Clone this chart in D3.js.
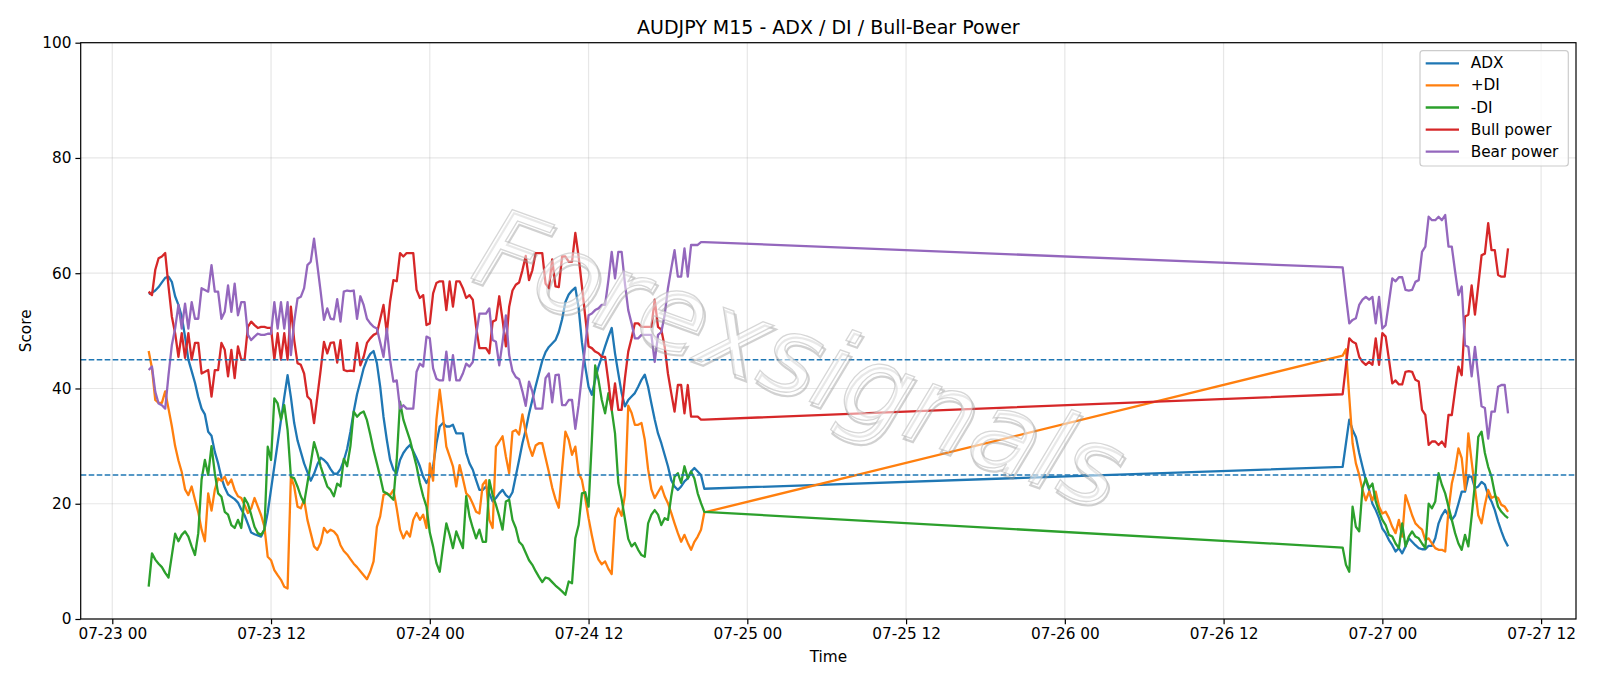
<!DOCTYPE html>
<html>
<head>
<meta charset="utf-8">
<script src="https://cdn.jsdelivr.net/npm/d3@7"></script>
<style>
  html, body { margin: 0; padding: 0; background: #fff; }
  svg { display: block; }
  text { font-family: "DejaVu Sans", sans-serif; }
</style>
</head>
<body>
<svg id="chart" width="1600" height="686"></svg>
<script>
// ---------------- data ----------------
const title = "AUDJPY M15 - ADX / DI / Bull-Bear Power";
const seriesNames = ["ADX", "+DI", "-DI", "Bull power", "Bear power"];
const seriesColors = ["#1f77b4", "#ff7f0e", "#2ca02c", "#d62728", "#9467bd"];
const yTicks = [0, 20, 40, 60, 80, 100];
const levelLines = [45, 25];
const xTickLabels = ["07-23 00","07-23 12","07-24 00","07-24 12","07-25 00","07-25 12","07-26 00","07-26 12","07-27 00","07-27 12"];
// two trading sessions of 15-minute bars (weekend gap in between)
const sessions = [
  { start: "2020-07-23T02:45:00Z", bars: 169 },
  { start: "2020-07-26T21:00:00Z", bars: 51 }
];
const barMinutes = 15;

const adx = [
56.4,56.6,57.0,57.6,58.4,59.2,59.4,58.5,56.0,54.5,
52.5,49.0,45.0,43.0,41.0,38.5,36.5,35.5,32.5,31.8,
29.0,27.0,24.5,22.8,21.6,21.2,20.8,20.2,19.0,18.0,
16.5,15.0,14.7,14.5,14.3,15.5,18.5,22.5,26.5,30.5,
34.5,38.5,42.3,38.5,34.0,31.0,29.0,27.0,25.5,24.0,
25.2,26.8,28.0,27.6,27.0,26.0,25.2,25.2,26.0,27.5,
29.5,32.5,36.0,39.0,41.2,43.5,45.0,46.0,46.5,44.4,
40.3,35.1,31.1,27.6,25.9,25.3,27.6,28.8,29.6,30.2,
29.1,27.9,26.5,24.7,23.6,24.7,26.5,30.5,33.4,34.0,
33.4,33.4,33.7,32.2,32.2,32.2,28.8,27.0,25.9,24.1,
22.4,22.4,23.0,21.8,20.4,21.0,21.8,22.4,21.5,21.0,
22.0,24.8,27.6,30.5,32.8,35.6,38.0,40.4,42.6,44.8,
46.3,47.2,47.8,48.4,49.8,52.0,55.0,56.3,57.0,57.5,
54.0,48.0,43.8,40.3,38.9,41.5,43.8,45.5,47.3,49.0,
50.5,46.1,42.6,39.2,36.9,38.0,38.6,39.2,40.3,41.5,
42.4,40.3,37.4,34.6,32.2,30.5,28.5,26.5,24.1,23.0,
22.4,23.0,23.9,24.4,25.6,26.2,25.6,25.0,22.6,
26.4,30.5,34.6,32.8,31.6,28.8,26.4,24.1,22.4,20.0,
18.9,17.5,15.7,14.9,13.7,12.8,11.7,12.3,11.4,12.6,
14.0,13.4,12.8,12.3,12.1,12.1,12.7,12.7,14.0,16.6,
18.0,18.9,18.0,17.2,18.0,20.0,22.1,22.1,24.7,24.7,
22.7,23.0,23.8,23.3,21.5,20.4,18.9,16.9,15.2,13.7,12.6
];
const plusDI = [
46.5,43.5,38.0,37.5,37.5,39.5,36.5,33.5,30.0,27.5,
25.5,22.5,21.5,23.0,20.7,18.5,15.5,13.5,21.8,18.8,
22.4,24.4,24.0,24.7,23.3,24.2,22.4,21.3,21.0,19.8,
18.4,19.2,21.0,19.5,18.0,16.0,10.8,10.2,8.5,7.6,
6.8,5.6,5.3,24.7,23.0,19.5,19.2,20.7,17.2,14.9,
12.6,12.0,13.2,15.8,15.0,15.5,15.2,14.5,12.8,11.8,
11.2,10.4,9.6,9.0,8.3,7.6,6.9,8.2,10.0,16.0,
17.8,21.5,21.8,21.5,22.4,19.2,15.5,14.0,15.2,14.3,
17.2,18.4,17.2,18.1,15.8,27.0,24.0,34.6,39.8,35.1,
29.9,28.2,26.5,23.0,26.7,24.4,21.8,21.2,20.0,18.6,
18.3,23.3,24.1,17.2,15.8,29.9,30.8,31.7,28.2,25.3,
32.5,32.8,32.0,35.5,32.5,30.0,28.3,30.1,30.5,30.5,
28.0,25.5,22.8,20.8,19.3,26.0,32.5,31.1,28.5,29.9,
25.3,24.1,21.0,17.5,14.5,11.8,10.3,9.5,10.0,8.7,
7.8,17.5,19.2,17.9,21.5,37.0,35.8,33.7,33.7,34.0,
31.1,26.0,22.5,21.0,22.0,23.0,21.3,20.1,18.4,16.6,
14.9,13.4,14.6,13.2,12.0,13.4,14.3,15.5,18.5,
45.7,46.8,38.5,30.5,27.0,25.0,22.4,20.6,22.1,20.6,
22.1,19.5,18.3,18.6,17.5,16.0,14.9,17.2,14.3,21.5,
19.8,18.0,16.6,16.0,15.5,13.7,14.0,13.1,12.3,12.0,
12.0,11.7,18.9,23.5,25.9,29.6,27.9,22.4,32.2,27.3,
22.7,18.0,16.6,19.8,22.4,21.0,21.3,21.0,19.8,19.5,18.6
];
const minusDI = [
5.6,11.4,10.3,9.6,9.0,8.0,7.2,11.0,14.8,13.5,
14.6,15.2,14.3,12.6,11.1,14.9,24.2,27.6,25.0,30.0,
25.3,21.8,21.2,18.6,18.1,16.3,15.8,17.2,15.8,21.0,
20.0,18.1,16.0,14.9,14.6,15.5,29.9,27.6,38.3,37.4,
34.6,37.1,32.8,24.7,24.4,23.0,21.3,20.1,23.6,27.0,
30.7,28.8,26.5,24.7,23.0,22.4,21.3,23.5,23.0,27.8,
26.5,30.0,36.0,35.1,35.7,36.0,34.5,32.0,29.3,27.0,
24.7,22.1,21.8,21.3,20.7,27.6,37.7,34.6,32.8,31.1,
28.8,26.5,23.6,21.3,19.5,15.0,12.6,9.7,8.2,12.6,
16.6,14.6,12.3,15.2,13.7,12.3,21.3,17.8,15.8,14.0,
15.5,13.4,13.4,24.1,21.5,19.8,17.8,15.5,20.4,20.7,
17.2,15.8,13.4,12.8,11.5,10.2,9.4,8.3,7.3,6.4,
7.2,7.0,6.4,5.8,5.3,4.8,4.2,6.5,6.2,14.0,
16.3,21.8,22.0,19.5,31.0,44.0,41.5,38.0,35.7,39.2,
36.3,32.2,23.6,20.8,17.3,13.9,12.6,13.2,12.0,11.1,
10.8,16.6,18.1,18.9,18.1,16.3,17.5,17.2,21.3,24.7,
25.3,23.6,26.5,24.4,25.6,24.4,21.8,20.1,18.6,
12.4,9.4,8.2,19.5,16.0,15.2,22.7,24.4,22.7,23.5,
20.4,18.6,17.2,16.3,14.6,14.3,13.1,12.3,16.6,12.6,
14.3,15.2,14.3,14.0,13.1,12.3,20.0,19.2,20.4,25.3,
23.3,21.8,19.5,17.2,14.9,13.1,12.0,14.6,12.6,17.8,
23.5,31.6,32.5,28.8,26.4,24.7,21.8,19.5,18.6,18.0,17.5
];
const bullPower = [
56.8,56.2,60.6,62.6,62.9,63.5,57.7,52.5,49.6,45.5,
49.6,45.3,49.6,45.0,47.9,47.9,42.6,42.9,43.2,38.6,
43.2,43.2,47.9,46.7,42.1,46.7,41.8,47.3,45.0,45.0,
50.7,51.6,51.0,50.5,50.7,50.7,50.5,50.5,45.0,49.6,
45.0,49.6,45.0,54.2,48.4,44.4,44.1,42.6,38.6,38.0,
34.0,38.6,43.2,48.1,46.1,47.9,48.0,44.5,48.4,43.2,
43.0,43.1,43.0,47.9,44.0,45.5,47.9,48.7,49.3,49.6,
52.0,54.5,49.6,55.1,58.8,58.6,63.5,62.9,63.5,63.5,
63.5,57.1,55.7,56.2,51.0,51.3,56.5,58.3,58.6,58.6,
53.6,58.6,54.2,58.6,58.6,57.4,55.7,56.2,55.4,50.7,
47.0,47.0,47.0,46.1,51.6,51.9,56.0,51.9,47.3,54.2,
57.0,58.0,58.4,60.5,63.0,58.8,60.5,63.5,63.5,63.5,
58.2,57.4,62.4,57.7,57.6,62.9,62.9,62.0,62.0,67.0,
62.9,57.7,52.5,47.3,47.0,46.4,46.1,45.5,45.5,41.2,
36.3,40.9,36.3,36.3,41.8,46.4,48.7,51.3,51.3,50.7,
50.7,50.7,50.7,55.4,50.7,50.2,47.3,42.6,39.2,36.0,
40.6,40.6,35.7,40.6,35.1,35.1,35.1,34.6,34.6,
39.0,44.0,48.7,48.1,47.8,45.5,44.6,44.1,44.6,44.1,
48.7,44.1,49.6,49.0,45.0,40.9,41.4,40.7,40.7,42.9,
43.0,42.9,41.5,41.2,36.3,35.4,30.2,30.8,30.8,30.2,
30.8,29.9,35.4,35.4,39.7,43.8,42.3,52.5,52.8,57.9,
52.8,57.9,63.1,63.4,68.7,64.0,64.0,59.7,59.4,59.4,64.3
];
const bearPower = [
43.2,43.8,39.4,37.4,37.1,36.5,42.3,47.5,50.4,54.5,
50.4,54.7,50.4,55.0,52.1,52.1,57.4,57.1,56.8,61.4,
56.8,56.8,52.1,53.3,57.9,53.3,58.2,52.7,55.0,55.0,
49.3,48.4,49.0,49.5,49.3,49.3,49.5,49.5,55.0,50.4,
55.0,50.4,55.0,45.8,51.6,55.6,55.9,57.4,61.4,62.0,
66.0,61.4,56.8,51.9,53.9,52.1,52.0,55.5,51.6,56.8,
57.0,56.9,57.0,52.1,56.0,54.5,52.1,51.3,50.7,50.4,
48.0,45.5,50.4,44.9,41.2,41.4,36.5,37.1,36.5,36.5,
36.5,42.9,44.3,43.8,49.0,48.7,43.5,41.7,41.4,41.4,
46.4,41.4,45.8,41.4,41.4,42.6,44.3,43.8,44.6,49.3,
53.0,53.0,53.0,53.9,48.4,48.1,44.0,48.1,52.7,45.8,
43.0,42.0,41.6,39.5,37.0,41.2,39.5,36.5,36.5,36.5,
41.8,42.6,37.6,42.3,42.4,37.1,37.1,38.0,38.0,33.0,
37.1,42.3,47.5,52.7,53.0,53.6,53.9,54.5,54.5,58.8,
63.7,59.1,63.7,63.7,58.2,53.6,51.3,48.7,48.7,49.3,
49.3,49.3,49.3,44.6,49.3,49.8,52.7,57.4,60.8,64.0,
59.4,59.4,64.3,59.4,64.9,64.9,64.9,65.4,65.4,
61.0,56.0,51.3,51.9,52.2,54.5,55.4,55.9,55.4,55.9,
51.3,55.9,50.4,51.0,55.0,59.1,58.6,59.3,59.3,57.1,
57.0,57.1,58.5,58.8,63.7,64.6,69.8,69.2,69.2,69.8,
69.2,70.1,64.6,64.6,60.3,56.2,57.7,47.5,47.2,42.1,
47.2,42.1,36.9,36.6,31.3,36.0,36.0,40.3,40.6,40.6,35.7
];
const watermark = "Forexsignals";

// ---------------- build ----------------
const times = [];
sessions.forEach(s => {
  const t0 = new Date(s.start).getTime();
  for (let k = 0; k < s.bars; k++) times.push(new Date(t0 + k * barMinutes * 60000));
});
const seriesValues = [adx, plusDI, minusDI, bullPower, bearPower];

const M = { left: 80.7, right: 1576, top: 42.7, bottom: 619 };
const svg = d3.select("#chart");

const tMin = times[0].getTime(), tMax = times[times.length - 1].getTime();
const pad = (tMax - tMin) * 0.05;
const x = d3.scaleUtc().domain([new Date(tMin - pad), new Date(tMax + pad)]).range([M.left, M.right]);
const y = d3.scaleLinear().domain([0, 100]).range([M.bottom, M.top]);

const parseTick = d3.utcParse("%Y-%m-%d %H");
const xTickDates = xTickLabels.map(l => parseTick("2020-" + l));
const fmt = d3.utcFormat("%m-%d %H");

// grid
const grid = svg.append("g");
grid.selectAll("line.gx").data(xTickDates).join("line")
  .attr("x1", d => x(d)).attr("x2", d => x(d)).attr("y1", M.top).attr("y2", M.bottom)
  .attr("stroke", "#b0b0b0").attr("stroke-opacity", 0.3).attr("stroke-width", 1.2);
grid.selectAll("line.gy").data(yTicks).join("line")
  .attr("x1", M.left).attr("x2", M.right).attr("y1", d => y(d)).attr("y2", d => y(d))
  .attr("stroke", "#b0b0b0").attr("stroke-opacity", 0.3).attr("stroke-width", 1.2);

// lines
const line = d3.line().x((d, i) => x(times[i])).y(d => y(d));
seriesValues.forEach((vals, k) => {
  svg.append("path").datum(vals).attr("d", line)
    .attr("fill", "none").attr("stroke", seriesColors[k])
    .attr("stroke-width", 2.3).attr("stroke-linejoin", "round").attr("stroke-linecap", "butt");
});

// level lines
svg.selectAll("line.lvl").data(levelLines).join("line")
  .attr("x1", M.left).attr("x2", M.right).attr("y1", d => y(d)).attr("y2", d => y(d))
  .attr("stroke", "#1f77b4").attr("stroke-width", 1.5).attr("stroke-dasharray", "5.6,2.4");

// watermark
const wm = svg.append("g").attr("transform", "translate(800,358) rotate(20)");
wm.append("text").attr("x", 3).attr("y", 3).attr("text-anchor", "middle").attr("dominant-baseline", "central")
  .attr("font-size", 108).attr("font-style", "italic").attr("fill", "none")
  .attr("stroke", "#999").attr("stroke-opacity", 0.45).attr("stroke-width", 2.2).text(watermark);
wm.append("text").attr("text-anchor", "middle").attr("dominant-baseline", "central")
  .attr("font-size", 108).attr("font-style", "italic").attr("fill", "#fff").attr("fill-opacity", 0.5)
  .attr("stroke", "#bbb").attr("stroke-opacity", 0.6).attr("stroke-width", 1.3).text(watermark);

// axes
const xAxis = svg.append("g").attr("transform", `translate(0,${M.bottom})`)
  .call(d3.axisBottom(x).tickValues(xTickDates).tickFormat(fmt).tickSize(5.3).tickPadding(4));
const yAxis = svg.append("g").attr("transform", `translate(${M.left},0)`)
  .call(d3.axisLeft(y).tickValues(yTicks).tickSize(5.3).tickPadding(4));
[xAxis, yAxis].forEach(a => {
  a.selectAll("text").attr("font-size", 15.3).attr("fill", "#000").attr("font-family", "DejaVu Sans");
  a.selectAll("line").attr("stroke", "#000").attr("stroke-width", 1.2);
  a.select(".domain").remove();
});
svg.append("rect").attr("x", M.left).attr("y", M.top).attr("width", M.right - M.left).attr("height", M.bottom - M.top)
  .attr("fill", "none").attr("stroke", "#000").attr("stroke-width", 1.2);

// labels
svg.append("text").attr("x", (M.left + M.right) / 2).attr("y", 26.5).attr("text-anchor", "middle")
  .attr("dominant-baseline", "central").attr("font-size", 19).text(title);
svg.append("text").attr("x", (M.left + M.right) / 2).attr("y", 657).attr("text-anchor", "middle")
  .attr("dominant-baseline", "central").attr("font-size", 15.3).text("Time");
svg.append("text").attr("transform", `translate(26,${(M.top + M.bottom) / 2}) rotate(-90)`).attr("text-anchor", "middle")
  .attr("dominant-baseline", "central").attr("font-size", 15.3).text("Score");

// legend
const lg = svg.append("g");
lg.append("rect").attr("x", 1420).attr("y", 50.7).attr("width", 148.3).attr("height", 115.3).attr("rx", 3)
  .attr("fill", "#fff").attr("fill-opacity", 0.8).attr("stroke", "#cccccc").attr("stroke-width", 1.2);
seriesNames.forEach((n, k) => {
  const yy = 63.3 + k * 22.1;
  lg.append("line").attr("x1", 1425.7).attr("x2", 1459).attr("y1", yy).attr("y2", yy)
    .attr("stroke", seriesColors[k]).attr("stroke-width", 2.3);
  lg.append("text").attr("x", 1470.7).attr("y", yy).attr("dominant-baseline", "central")
    .attr("font-size", 15.3).text(n);
});
</script>
</body>
</html>
